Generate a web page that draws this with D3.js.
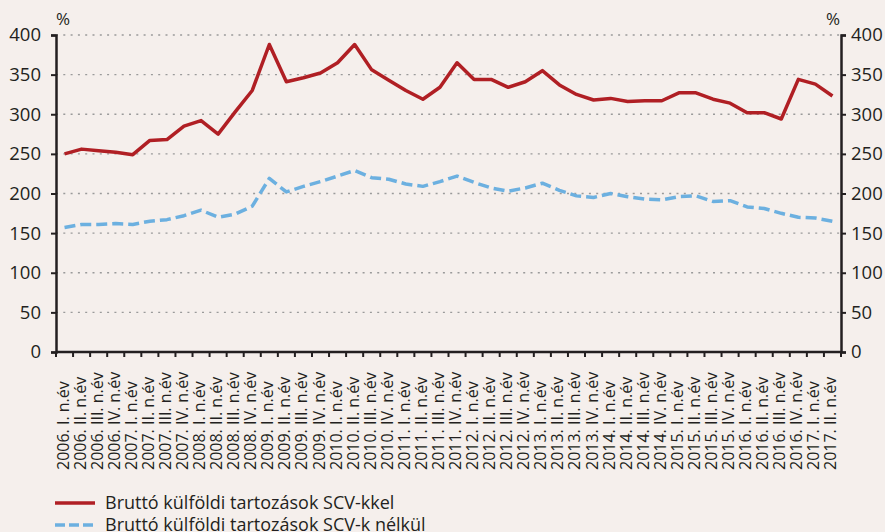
<!DOCTYPE html>
<html lang="hu">
<head>
<meta charset="UTF-8">
<title>Bruttó külföldi tartozások</title>
<style>
  body { margin: 0; background: #f5efec; }
  svg { display: block; }
</style>
</head>
<body>
<script src="https://cdn.jsdelivr.net/npm/d3@7"></script>
<script>
const W = 885, H = 532;

const years = ["2006", "2007", "2008", "2009", "2010", "2011", "2012", "2013", "2014", "2015", "2016", "2017"];
const quarters = ["I", "II", "III", "IV"];

// tick labels, e.g. "2006. I. n.év"
const periods = [];
years.forEach(y => quarters.forEach(q => periods.push(y + ". " + q + ". n.év")));
periods.splice(46); // data ends at 2017 II

const withSCV = [250, 256, 254, 252, 249, 267, 268, 285, 292, 275, 303, 330,
  388, 341, 346, 352, 365, 388, 356, 343, 330, 319, 334, 365,
  344, 344, 334, 341, 355, 337, 325, 318, 320, 316, 317, 317,
  327, 327, 319, 314, 302, 302, 294, 344, 338, 323];

const withoutSCV = [157, 161, 161, 162, 161, 165, 167, 172, 179, 170, 174, 184,
  219, 202, 209, 215, 222, 229, 220, 218, 212, 209, 215, 222,
  214, 207, 203, 207, 213, 204, 197, 195, 200, 196, 193, 192,
  196, 197, 190, 191, 183, 181, 175, 170, 169, 165];

const yTicks = [0, 50, 100, 150, 200, 250, 300, 350, 400];

const series = [
  { name: "Bruttó külföldi tartozások SCV-kkel", values: withSCV, color: "#b01f24", dash: null },
  { name: "Bruttó külföldi tartozások SCV-k nélkül", values: withoutSCV, color: "#6cb0e0", dash: "11,5" }
];

const m = { left: 56, right: 44, top: 35, bottom: 180 };
const font = "'Open Sans', sans-serif";
const ink = "#231f20";

const svg = d3.select("body").append("svg")
  .attr("width", W)
  .attr("height", H)
  .style("background", "#f5efec")
  .style("font-family", font);

const x = d3.scaleBand()
  .domain(periods)
  .range([m.left, W - m.right]);

const y = d3.scaleLinear()
  .domain([0, 400])
  .range([H - m.bottom, m.top]);

// dotted gridlines
svg.append("g")
  .selectAll("line")
  .data(yTicks.filter(d => d > 0))
  .join("line")
  .attr("x1", m.left)
  .attr("x2", W - m.right)
  .attr("y1", d => y(d))
  .attr("y2", d => y(d))
  .attr("stroke", "#9a9a9a")
  .attr("stroke-width", 1.3)
  .attr("stroke-dasharray", "2,5.3");

// left and right y axes
const axL = svg.append("g")
  .attr("transform", `translate(${m.left},0)`)
  .call(d3.axisLeft(y).tickValues(yTicks).tickSize(5).tickPadding(10));
const axR = svg.append("g")
  .attr("transform", `translate(${W - m.right},0)`)
  .call(d3.axisRight(y).tickValues(yTicks).tickSize(5).tickPadding(5));

[axL, axR].forEach(g => {
  g.select(".domain").attr("stroke", ink).attr("stroke-width", 2.5);
  g.selectAll(".tick line").attr("stroke", ink).attr("stroke-width", 2);
  g.selectAll(".tick text")
    .attr("fill", ink)
    .style("font-size", "18.5px")
    .style("font-family", font);
});

svg.append("text")
  .attr("x", m.left + 7)
  .attr("y", 25)
  .attr("text-anchor", "middle")
  .attr("fill", ink)
  .style("font-size", "17px")
  .text("%");
svg.append("text")
  .attr("x", W - m.right - 8)
  .attr("y", 25)
  .attr("text-anchor", "middle")
  .attr("fill", ink)
  .style("font-size", "17px")
  .text("%");

// x axis: ticks at band edges, rotated labels
const xAxis = svg.append("g")
  .attr("transform", `translate(0,${y(0)})`);

xAxis.append("line")
  .attr("x1", m.left)
  .attr("x2", W - m.right)
  .attr("stroke", ink)
  .attr("stroke-width", 2.5);

xAxis.selectAll("line.tk")
  .data(periods.concat(["end"]))
  .join("line")
  .attr("class", "tk")
  .attr("x1", (d, i) => i < periods.length ? x(d) : x.range()[1])
  .attr("x2", (d, i) => i < periods.length ? x(d) : x.range()[1])
  .attr("y1", 0)
  .attr("y2", 5)
  .attr("stroke", ink)
  .attr("stroke-width", 2);

xAxis.selectAll("text")
  .data(periods)
  .join("text")
  .attr("transform", d => `translate(${x(d) + x.bandwidth() / 2 + 4},118) rotate(-90)`)
  .attr("text-anchor", "start")
  .attr("fill", ink)
  .style("font-size", "16px")
  .text(d => d);

// lines
const line = d3.line()
  .x((d, i) => x(periods[i]) + x.bandwidth() / 2)
  .y(d => y(d));

svg.selectAll("path.series")
  .data(series)
  .join("path")
  .attr("class", "series")
  .attr("fill", "none")
  .attr("stroke", d => d.color)
  .attr("stroke-width", 3.5)
  .attr("stroke-linejoin", "round")
  .attr("stroke-dasharray", d => d.dash)
  .attr("d", d => line(d.values));

// legend
const lg = svg.append("g")
  .selectAll("g")
  .data(series)
  .join("g")
  .attr("transform", (d, i) => `translate(55,${503 + i * 22})`);

lg.append("line")
  .attr("x1", 0)
  .attr("x2", 40)
  .attr("stroke", d => d.color)
  .attr("stroke-width", 3.5)
  .attr("stroke-dasharray", d => d.dash ? "10,4" : null);

lg.append("text")
  .attr("x", 50)
  .attr("y", 6)
  .attr("fill", ink)
  .style("font-size", "18px")
  .text(d => d.name);
</script>
</body>
</html>
